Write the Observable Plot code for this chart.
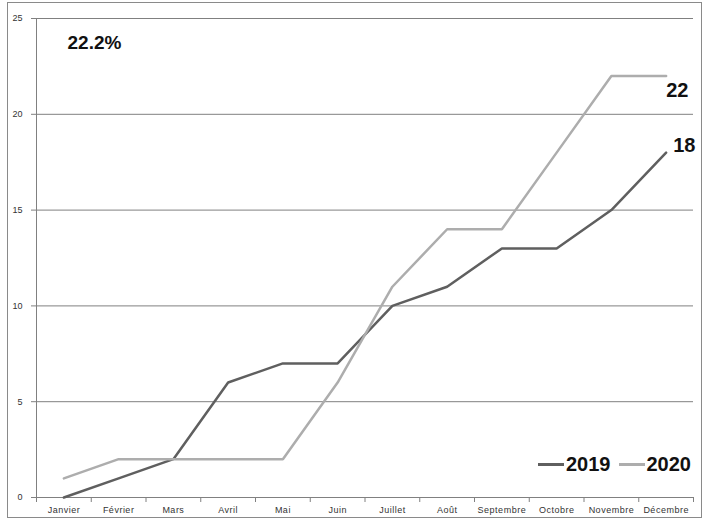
<!DOCTYPE html>
<html><head><meta charset="utf-8">
<script src="https://cdn.jsdelivr.net/npm/d3@7"></script>
<script src="https://cdn.jsdelivr.net/npm/@observablehq/plot@0.6"></script>
<style>
body{margin:0;background:#fff;}
#wrap{position:relative;width:703px;height:519px;font-family:"Liberation Sans",Arial,sans-serif;}
#frame{position:absolute;left:7px;top:2px;width:695px;height:516px;border:1px solid #8a8a8a;box-sizing:border-box;pointer-events:none}
#legend{position:absolute;left:538px;top:453px;display:flex;align-items:center;font-weight:bold;font-size:20px;color:#111;}
#legend .sw{display:inline-block;width:26px;height:3px;margin-right:2px}
#legend .it{display:flex;align-items:center;margin-right:8px}
svg g[aria-label="x-axis tick label"] text{letter-spacing:0.5px}
</style></head>
<body><div id="wrap"><div id="frame"></div><div id="legend"></div></div>
<script>
const months = ["Janvier","Février","Mars","Avril","Mai","Juin","Juillet","Août","Septembre","Octobre","Novembre","Décembre"];
const v2019 = [0,1,2,6,7,7,10,11,13,13,15,18];
const v2020 = [1,2,2,2,2,6,11,14,14,18,22,22];
const seriesNames = ["2019","2020"];
const seriesColors = ["#5f5f5f","#adadad"];
const yTicks = [0,5,10,15,20,25];
const annotation = "22.2%";

const rows = [];
months.forEach((m,i)=>{
  rows.push({i, month:m, series:"2019", value:v2019[i]});
  rows.push({i, month:m, series:"2020", value:v2020[i]});
});
const last = rows.filter(d=>d.i===months.length-1);

const tickFont = {fontSize: 9, fill:"#333", fontFamily:"'Liberation Sans',Arial,sans-serif"};

const chart = Plot.plot({
  width:703, height:519,
  marginLeft:36, marginRight:10, marginTop:18, marginBottom:22,
  style:{background:"transparent", fontFamily:"'Liberation Sans',Arial,sans-serif"},
  x:{type:"linear", domain:[0,months.length], axis:null},
  y:{domain:[0,25], axis:null},
  color:{domain:seriesNames, range:seriesColors},
  marks:[
    Plot.gridY(yTicks.filter(t=>t>0), {stroke:"#808080", strokeOpacity:1, strokeWidth:1}),
    Plot.ruleY([0], {stroke:"#808080", strokeWidth:1}),
    Plot.ruleX([0], {stroke:"#808080", strokeWidth:1, y1:0, y2:25}),
    Plot.axisY(yTicks, {tickSize:5, tickPadding:9, stroke:"#808080", label:null, ...tickFont}),
    Plot.axisX(d3.range(months.length+1), {tickSize:5, tickFormat:()=>"", stroke:"#808080", label:null}),
    Plot.axisX(months.map((m,i)=>i+0.5), {tickSize:0, tickPadding:9, tickFormat:d=>months[Math.floor(d)], label:null, ...tickFont}),
    Plot.line(rows, {x:d=>d.i+0.5, y:"value", z:"series", stroke:"series", strokeWidth:2.5, strokeLinejoin:"miter"}),
    Plot.text(last.filter(d=>d.series==="2020"), {x:d=>d.i+0.5, y:"value", text:d=>String(d.value), textAnchor:"start", dx:0, dy:15, fontSize:20, fontWeight:"bold", fill:"#111"}),
    Plot.text(last.filter(d=>d.series==="2019"), {x:d=>d.i+0.5, y:"value", text:d=>String(d.value), textAnchor:"start", dx:7, dy:-7, fontSize:20, fontWeight:"bold", fill:"#111"}),
    Plot.text([annotation], {frameAnchor:"top-left", dx:31, dy:24, lineAnchor:"middle", textAnchor:"start", fontSize:19, fontWeight:"bold", fill:"#111"})
  ]
});
chart.style.position="absolute"; chart.style.left="0"; chart.style.top="0";
document.getElementById("wrap").prepend(chart);

const lg = document.getElementById("legend");
seriesNames.forEach((s,k)=>{
  const it = document.createElement("span"); it.className="it";
  const sw = document.createElement("span"); sw.className="sw"; sw.style.background=seriesColors[k];
  const tx = document.createElement("span"); tx.textContent=s;
  it.append(sw,tx); lg.append(it);
});
</script></body></html>
